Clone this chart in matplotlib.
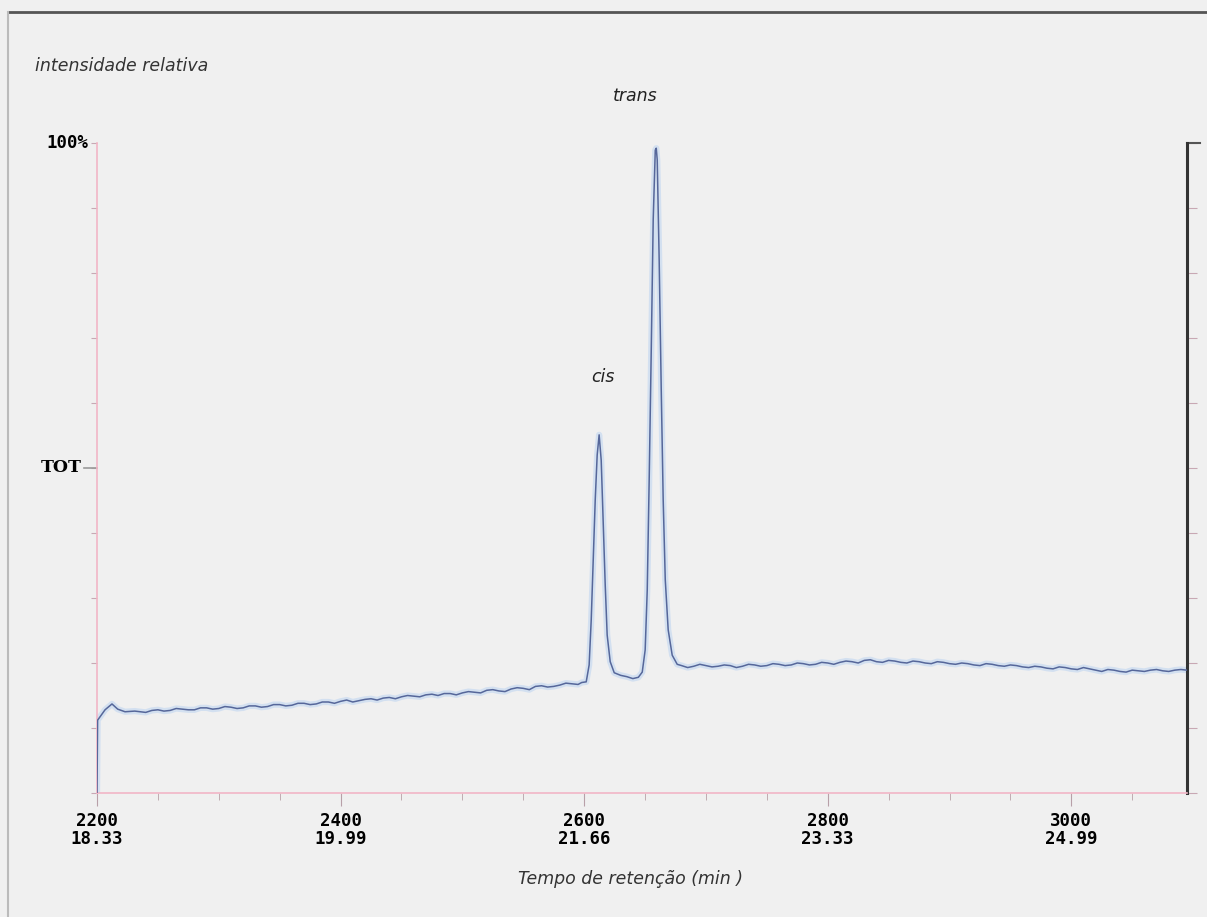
import matplotlib
matplotlib.use("Agg")
import matplotlib.pyplot as plt
from matplotlib.lines import Line2D

# ---- data (scan number, relative intensity %) ----
scan = [2200, 2200.5, 2206.6, 2212.3, 2217, 2223, 2231,
        2240, 2245, 2250, 2255, 2260, 2265, 2270, 2275, 2280, 2285, 2290,
        2295, 2300, 2305, 2310, 2315, 2320, 2325, 2330, 2335,
        2340, 2345, 2350, 2355, 2360, 2365, 2370, 2375, 2380, 2385, 2390,
        2395, 2400, 2405, 2410, 2415, 2420, 2425, 2430, 2435,
        2440, 2445, 2450, 2455, 2460, 2465, 2470, 2475, 2480, 2485, 2490,
        2495, 2500, 2505, 2510, 2515, 2520, 2525, 2530, 2535,
        2540, 2545, 2550, 2555, 2560, 2565, 2570, 2575, 2580, 2585, 2590,
        2595, 2598,
        2601.7, 2604.1, 2605.8, 2607.4, 2609.1, 2610.7, 2612.3, 2614.0,
        2615.6, 2617.3, 2618.9, 2621.4, 2624.7, 2630, 2635, 2640, 2644.5,
        2647.7, 2650.1, 2651.8, 2653.4, 2655.1, 2656.7, 2658.4, 2659.2,
        2660.0, 2661.6, 2663.3, 2664.9, 2666.6, 2669.0, 2672.3, 2676.4,
        2680, 2685, 2690, 2695, 2700, 2705, 2710, 2715, 2720, 2725, 2730,
        2735, 2740, 2745, 2750, 2755, 2760, 2765, 2770, 2775, 2780, 2785,
        2790, 2795, 2800, 2805, 2810, 2815, 2820, 2825, 2830, 2835, 2840,
        2845, 2850, 2855, 2860, 2865, 2870, 2875, 2880, 2885, 2890, 2895,
        2900, 2905, 2910, 2915, 2920, 2925, 2930, 2935, 2940, 2945, 2950,
        2955, 2960, 2965, 2970, 2975, 2980, 2985, 2990, 2995, 3000, 3005,
        3010, 3015, 3020, 3025, 3030, 3035, 3040, 3045, 3050, 3055, 3060,
        3065, 3070, 3075, 3080, 3085, 3090, 3095]
intensity = [0.0, 11.2, 12.8, 13.7, 12.9, 12.5, 12.6,
             12.4, 12.7, 12.8, 12.6, 12.7, 13.0, 12.9, 12.8, 12.8, 13.1, 13.1,
             12.9, 13.0, 13.3, 13.2, 13.0, 13.1, 13.4, 13.4, 13.2,
             13.3, 13.6, 13.6, 13.4, 13.5, 13.8, 13.8, 13.6, 13.7, 14.0, 14.0,
             13.8, 14.1, 14.3, 14.0, 14.2, 14.4, 14.5, 14.3, 14.6,
             14.7, 14.5, 14.8, 15.0, 14.9, 14.8, 15.1, 15.2, 15.0, 15.3, 15.3,
             15.1, 15.4, 15.6, 15.5, 15.4, 15.8, 15.9, 15.7, 15.6,
             16.0, 16.2, 16.1, 15.9, 16.4, 16.5, 16.3, 16.4, 16.6, 16.9, 16.8,
             16.7, 17.0,
             17.1, 19.7, 26.6, 35.8, 45.1, 52.0, 55.1, 51.2,
             42.0, 32.0, 24.3, 20.2, 18.5, 18.1, 17.9, 17.6, 17.8,
             18.6, 22.0, 31.2, 48.2, 68.2, 88.2, 98.9, 99.2,
             97.4, 82.0, 62.0, 45.1, 32.8, 25.1, 21.2, 19.8,
             19.6, 19.3, 19.5, 19.8, 19.6, 19.4, 19.5, 19.7, 19.6, 19.3, 19.5,
             19.8, 19.7, 19.5, 19.6, 19.9, 19.8, 19.6, 19.7, 20.0, 19.9, 19.7,
             19.8, 20.1, 20.0, 19.8, 20.1, 20.3, 20.2, 20.0, 20.4, 20.5, 20.2,
             20.1, 20.4, 20.3, 20.1, 20.0, 20.3, 20.2, 20.0, 19.9, 20.2, 20.1,
             19.9, 19.8, 20.0, 19.9, 19.7, 19.6, 19.9, 19.8, 19.6, 19.5, 19.7,
             19.6, 19.4, 19.3, 19.5, 19.4, 19.2, 19.1, 19.4, 19.3, 19.1, 19.0,
             19.3, 19.1, 18.9, 18.7, 19.0, 18.9, 18.7, 18.6, 18.9, 18.8, 18.7,
             18.9, 19.0, 18.8, 18.7, 18.9, 19.0, 18.9]

scan_ticks = [2200, 2400, 2600, 2800, 3000]
time_labels = ["18.33", "19.99", "21.66", "23.33", "24.99"]
peak_names = ["cis", "trans"]
peak_scans = [2612.3, 2659.2]
peak_heights = [55.1, 99.2]
label_offsets = [(3, 35), (-15, 31)]

BG = "#f0f0f0"
PINK = "#f2b6c6"
LINE = "#56679a"

fig = plt.figure(figsize=(12.07, 9.17), dpi=100, facecolor=BG)
ax = fig.add_axes([97 / 1207, 124 / 917, (1187 - 97) / 1207, (793 - 143) / 917])
ax.set_facecolor(BG)

ax.plot(scan, intensity, color="#d3e0f0", lw=4.5, solid_joinstyle="round", zorder=2)
ax.plot(scan, intensity, color=LINE, lw=1.1, zorder=3)

ax.set_xlim(2200, 3095)
ax.set_ylim(0, 100)

# spines
ax.spines["top"].set_visible(False)
ax.spines["left"].set_color(PINK)
ax.spines["bottom"].set_color(PINK)
ax.spines["left"].set_linewidth(1.2)
ax.spines["bottom"].set_linewidth(1.2)
ax.spines["right"].set_color("#333333")
ax.spines["right"].set_linewidth(2.2)

# x ticks
ax.set_xticks(scan_ticks)
ax.set_xticklabels([f"{s}\n{t}" for s, t in zip(scan_ticks, time_labels)],
                   family="DejaVu Sans Mono", fontweight="bold", fontsize=12.5,
                   linespacing=1.0)
ax.set_xticks([s for s in range(2250, 3095, 50) if s not in scan_ticks], minor=True)
ax.tick_params(axis="x", which="major", length=9, color="#b8a0a8", pad=5)
ax.tick_params(axis="x", which="minor", length=5, color="#b8a0a8")

# y ticks (left pink, right dark)
ax.set_yticks(range(0, 101, 10))
ax.set_yticklabels([])
ax.tick_params(axis="y", which="major", length=4, color="#c8a8b4",
               right=True, labelright=False)
for t in ax.yaxis.get_major_ticks():
    t.tick2line.set_color("#666666")
    t.tick2line.set_markersize(7)
ax.text(-0.008, 1.0, "100%", transform=ax.transAxes, ha="right", va="center",
        family="DejaVu Sans Mono", fontweight="bold", fontsize=12.5)
ax.text(-0.014, 0.5, "TOT", transform=ax.transAxes, ha="right", va="center",
        family="DejaVu Serif", fontweight="bold", fontsize=12.5)
ax.plot([-0.012, 0], [0.5, 0.5], transform=ax.transAxes, color="#999999",
        lw=1.2, clip_on=False)
ax.plot([1.0, 1.012], [1.0, 1.0], transform=ax.transAxes, color="#555555",
        lw=1.5, clip_on=False)

# annotations
for name, s, h, off in zip(peak_names, peak_scans, peak_heights, label_offsets):
    ax.annotate(name, (s, h), xytext=off,
                textcoords="offset points", ha="center", va="bottom",
                fontstyle="italic", fontsize=12.5, color="#222222")

fig.text(35 / 1207, 1 - 66 / 917, "intensidade relativa", ha="left", va="center",
         fontstyle="italic", fontsize=12.5, color="#333333")
fig.text(630 / 1207, 1 - 879 / 917, "Tempo de retenção (min )", ha="center",
         va="center", fontstyle="italic", fontsize=12.5, color="#333333")

# outer frame lines
fig.add_artist(Line2D([8 / 1207, 1.0], [1 - 12 / 917, 1 - 12 / 917],
                      transform=fig.transFigure, color="#555555", lw=2))
fig.add_artist(Line2D([8 / 1207, 8 / 1207], [0, 1 - 12 / 917],
                      transform=fig.transFigure, color="#bbbbbb", lw=1.5))

fig.savefig("out.png", dpi=100, facecolor=BG)
